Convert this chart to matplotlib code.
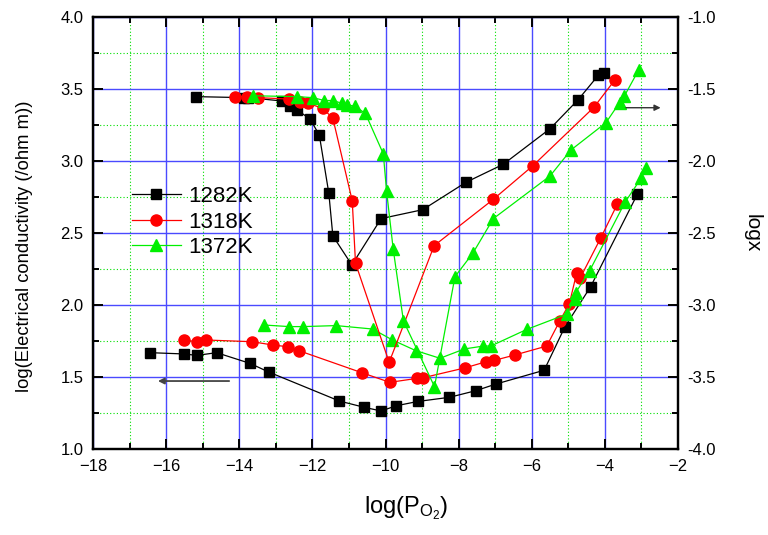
import matplotlib
matplotlib.use('Agg')
import matplotlib.pyplot as plt
from matplotlib.ticker import MultipleLocator

plt.rcParams['font.family'] = ['Liberation Sans', 'DejaVu Sans']
plt.rcParams['mathtext.fontset'] = 'custom'
plt.rcParams['mathtext.rm'] = 'Liberation Sans'
plt.rcParams['mathtext.it'] = 'Liberation Sans:italic'

labels = ['1282K', '1318K', '1372K']
colors = ['black', '#ff0000', '#00f000']
markers = ['s', 'o', '^']
msizes = [7.5, 8.0, 9.0]

# --- conductivity (left axis) ---
cond_x_1282 = [-16.44, -15.51, -15.16, -14.62, -13.71, -13.18, -11.26, -10.59, -10.12,
               -9.71, -9.12, -8.25, -7.53, -6.98, -5.66, -5.09, -4.39, -3.11]
cond_y_1282 = [1.669, 1.66, 1.65, 1.669, 1.595, 1.533, 1.333, 1.29, 1.264,
               1.30, 1.33, 1.359, 1.405, 1.451, 1.547, 1.85, 2.127, 2.77]

cond_x_1318 = [-15.51, -15.16, -14.92, -13.64, -13.08, -12.66, -12.37, -10.65, -9.88,
               -9.15, -8.97, -7.83, -7.25, -7.03, -6.46, -5.59, -5.23, -4.97, -4.77,
               -4.68, -4.11, -3.66]
cond_y_1318 = [1.757, 1.745, 1.757, 1.745, 1.722, 1.71, 1.683, 1.53, 1.463,
               1.49, 1.495, 1.563, 1.606, 1.615, 1.653, 1.715, 1.891, 2.01, 2.224,
               2.185, 2.467, 2.70]

cond_x_1372 = [-13.32, -12.63, -12.25, -11.35, -10.35, -9.81, -9.17, -8.51, -7.84,
               -7.32, -7.12, -6.14, -5.04, -4.83, -4.80, -4.42, -3.45, -3.01, -2.88]
cond_y_1372 = [1.861, 1.85, 1.85, 1.857, 1.833, 1.757, 1.683, 1.63, 1.695,
               1.715, 1.715, 1.83, 1.937, 2.04, 2.085, 2.236, 2.713, 2.88, 2.95]

# --- logx (right axis) ---
logx_x_1282 = [-15.19, -13.87, -13.75, -12.84, -12.61, -12.41, -12.06, -11.81, -11.55,
               -11.44, -10.92, -10.12, -8.98, -7.80, -6.78, -5.50, -4.73, -4.18, -4.02]
logx_y_1282 = [-1.553, -1.56, -1.56, -1.583, -1.618, -1.646, -1.71, -1.82, -2.224,
               -2.52, -2.722, -2.40, -2.338, -2.148, -2.023, -1.776, -1.574, -1.405, -1.389]

logx_x_1318 = [-14.12, -13.78, -13.48, -12.64, -12.34, -12.11, -11.72, -11.44, -10.91,
               -10.82, -9.90, -8.67, -7.05, -5.97, -4.30, -3.72]
logx_y_1318 = [-1.553, -1.553, -1.56, -1.57, -1.59, -1.60, -1.634, -1.703, -2.276,
               -2.71, -3.398, -2.588, -2.266, -2.033, -1.627, -1.435]

logx_x_1372 = [-13.63, -12.41, -11.99, -11.67, -11.44, -11.18, -11.04, -10.83, -10.55,
               -10.06, -9.97, -9.79, -9.51, -8.66, -8.10, -7.61, -7.05, -5.50, -4.93,
               -3.97, -3.60, -3.47, -3.08]
logx_y_1372 = [-1.547, -1.553, -1.56, -1.58, -1.58, -1.60, -1.61, -1.62, -1.67,
               -1.95, -2.21, -2.61, -3.11, -3.567, -2.803, -2.64, -2.40, -2.104, -1.924,
               -1.734, -1.595, -1.55, -1.37]

cond_x = [cond_x_1282, cond_x_1318, cond_x_1372]
cond_y = [cond_y_1282, cond_y_1318, cond_y_1372]
logx_x = [logx_x_1282, logx_x_1318, logx_x_1372]
logx_y = [logx_y_1282, logx_y_1318, logx_y_1372]

fig = plt.figure(figsize=(7.68, 5.35), dpi=100)
ax = fig.add_axes([93/768, 1-449/535, 585/768, 432/535])
ax2 = ax.twinx()

ax.set_xlim(-18, -2)
ax.set_ylim(1.0, 4.0)
ax2.set_ylim(-4.0, -1.0)

ax.xaxis.set_major_locator(MultipleLocator(2))
ax.xaxis.set_minor_locator(MultipleLocator(1))
ax.yaxis.set_major_locator(MultipleLocator(0.5))
ax.yaxis.set_minor_locator(MultipleLocator(0.25))
ax2.yaxis.set_major_locator(MultipleLocator(0.5))
ax2.yaxis.set_minor_locator(MultipleLocator(0.25))
ax.yaxis.set_major_formatter(matplotlib.ticker.FormatStrFormatter('%.1f'))
ax2.yaxis.set_major_formatter(matplotlib.ticker.FormatStrFormatter('%.1f'))

ax.set_axisbelow(True)
ax.grid(which='major', color='#4a4aff', lw=1.0, ls='-')
ax.grid(which='minor', color='#00e000', lw=0.8, ls=(0, (1, 2)))

for a in (ax, ax2):
    for s in a.spines.values():
        s.set_linewidth(1.6)
ax.tick_params(which='both', direction='in', top=True, right=False, width=1.4,
               labelsize=12, pad=7)
ax.tick_params(which='major', length=7)
ax.tick_params(which='minor', length=4)
ax2.tick_params(which='both', direction='in', width=1.4, labelsize=12, pad=7)
ax2.tick_params(which='major', length=7)
ax2.tick_params(which='minor', length=4)

for i in range(3):
    ax.plot(cond_x[i], cond_y[i], color=colors[i], marker=markers[i], ms=msizes[i],
            mec=colors[i], lw=0.9, label=labels[i])
    ax2.plot(logx_x[i], logx_y[i], color=colors[i], marker=markers[i], ms=msizes[i],
             mec=colors[i], lw=0.9)

ax.annotate('', xy=(-16.3, 1.472), xytext=(-14.2, 1.472),
            arrowprops=dict(arrowstyle='-|>', color='#444444', lw=1.3, mutation_scale=9))
ax2.annotate('', xy=(-2.4, -1.63), xytext=(-3.5, -1.63),
             arrowprops=dict(arrowstyle='-|>', color='#333333', lw=1.0, mutation_scale=9))

leg = ax.legend(loc='center left', bbox_to_anchor=((132-93)/585, (449-222)/432),
                frameon=False, fontsize=16, handlelength=2.2, handletextpad=0.35,
                labelspacing=0.2, borderpad=0, borderaxespad=0, numpoints=1)

ax.set_ylabel('log(Electrical conductivity (/ohm m))', fontsize=13.2)
ax.yaxis.set_label_coords(-0.103, 0.47)
ax2.set_ylabel('logx', fontsize=15, rotation=270, va='center')
ax2.yaxis.set_label_coords(1.126, 0.5)
ax.set_xlabel(r'log(P$_{\mathregular{O_2}}$)', fontsize=17)
ax.xaxis.set_label_coords(0.535, -0.105)

fig.savefig('out.png', dpi=100)
